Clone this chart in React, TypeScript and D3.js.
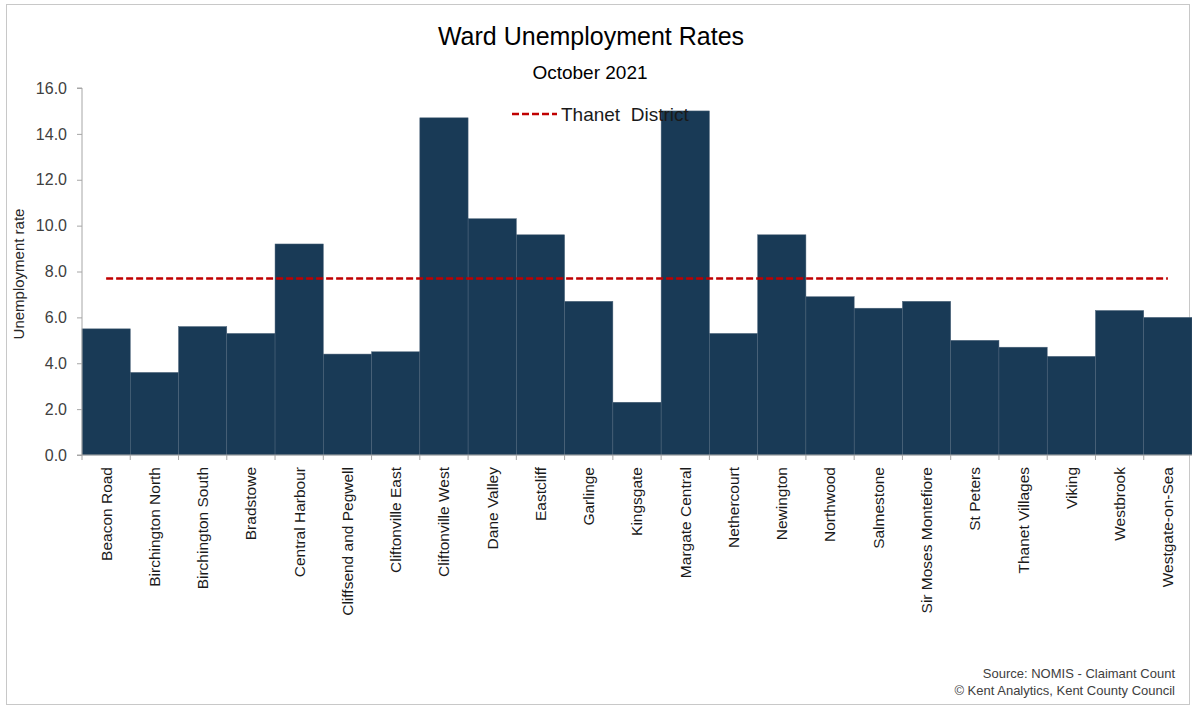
import React, { useEffect, useRef } from "react";
import * as d3 from "d3";

const wards = [
  "Beacon Road",
  "Birchington North",
  "Birchington South",
  "Bradstowe",
  "Central Harbour",
  "Cliffsend and Pegwell",
  "Cliftonville East",
  "Cliftonville West",
  "Dane Valley",
  "Eastcliff",
  "Garlinge",
  "Kingsgate",
  "Margate Central",
  "Nethercourt",
  "Newington",
  "Northwood",
  "Salmestone",
  "Sir Moses Montefiore",
  "St Peters",
  "Thanet Villages",
  "Viking",
  "Westbrook",
  "Westgate-on-Sea",
];

const wardRates = [
  5.5, 3.6, 5.6, 5.3, 9.2, 4.4, 4.5, 14.7, 10.3, 9.6, 6.7, 2.3, 15.0, 5.3, 9.6,
  6.9, 6.4, 6.7, 5.0, 4.7, 4.3, 6.3, 6.0,
];

const districtRate = 7.7;
const yTicks = [0, 2, 4, 6, 8, 10, 12, 14, 16];

const W = 1192;
const H = 708;
const FONT = "'Liberation Sans', Arial, sans-serif";

const App: React.FC = () => {
  const svgRef = useRef<SVGSVGElement>(null);

  useEffect(() => {
    if (!svgRef.current) return;
    const svg = d3.select(svgRef.current);
    svg.selectAll("*").remove();

    const left = 82;
    const right = 1192;
    const top = 88;
    const bottom = 455;

    const x = d3.scaleBand<string>().domain(wards).range([left, right]).padding(0);
    const y = d3.scaleLinear().domain([0, 16]).range([bottom, top]);

    // outer frame
    svg
      .append("rect")
      .attr("x", 6.5)
      .attr("y", 4.5)
      .attr("width", 1183)
      .attr("height", 700)
      .attr("fill", "white")
      .attr("stroke", "#c8c8c8")
      .attr("stroke-width", 1);

    // title
    svg
      .append("text")
      .attr("x", 591)
      .attr("y", 45)
      .attr("text-anchor", "middle")
      .attr("font-family", FONT)
      .attr("font-size", 25)
      .attr("fill", "#000")
      .text("Ward Unemployment Rates");

    svg
      .append("text")
      .attr("x", 590)
      .attr("y", 79)
      .attr("text-anchor", "middle")
      .attr("font-family", FONT)
      .attr("font-size", 19)
      .attr("fill", "#000")
      .text("October 2021");

    // bars
    svg
      .append("g")
      .selectAll("rect")
      .data(wards)
      .join("rect")
      .attr("x", (d) => x(d)!)
      .attr("width", x.bandwidth())
      .attr("y", (_, i) => y(wardRates[i]))
      .attr("height", (_, i) => y(0) - y(wardRates[i]))
      .attr("fill", "#193a56")
      .attr("stroke", "#4d647a")
      .attr("stroke-width", 0.5);

    // district line
    svg
      .append("line")
      .attr("x1", x(wards[0])! + x.bandwidth() / 2)
      .attr("x2", x(wards[wards.length - 1])! + x.bandwidth() / 2)
      .attr("y1", y(districtRate))
      .attr("y2", y(districtRate))
      .attr("stroke", "#c00000")
      .attr("stroke-width", 2.5)
      .attr("stroke-dasharray", "7,3");

    // y axis
    const yAxis = svg
      .append("g")
      .attr("transform", `translate(${left}, 0)`)
      .call(
        d3
          .axisLeft(y)
          .tickValues(yTicks)
          .tickSize(5)
          .tickPadding(10)
          .tickFormat((d) => d3.format(".1f")(d as number))
      );
    yAxis.selectAll("path").attr("stroke", "#a6a6a6").attr("d", `M-5,${bottom}H0V${top}H-5`);
    yAxis.selectAll("line").attr("stroke", "#a6a6a6");
    yAxis
      .selectAll("text")
      .attr("font-family", FONT)
      .attr("font-size", 16)
      .attr("fill", "#404040");

    // x axis
    const xAxis = svg.append("g").attr("transform", `translate(0, ${bottom})`);
    xAxis
      .append("line")
      .attr("x1", left)
      .attr("x2", right)
      .attr("stroke", "#a6a6a6");
    xAxis
      .selectAll("line.tick")
      .data(wards)
      .join("line")
      .attr("class", "tick")
      .attr("x1", (d) => x(d)!)
      .attr("x2", (d) => x(d)!)
      .attr("y1", 0)
      .attr("y2", 5)
      .attr("stroke", "#a6a6a6");
    xAxis
      .selectAll("text")
      .data(wards)
      .join("text")
      .attr(
        "transform",
        (d) => `translate(${x(d)! + x.bandwidth() / 2}, 12) rotate(-90)`
      )
      .attr("text-anchor", "end")
      .attr("dy", "0.35em")
      .attr("font-family", FONT)
      .attr("font-size", 15.5)
      .attr("fill", "#1a1a1a")
      .text((d) => d);

    // y axis title
    svg
      .append("text")
      .attr("transform", `translate(19, 274) rotate(-90)`)
      .attr("text-anchor", "middle")
      .attr("dy", "0.35em")
      .attr("font-family", FONT)
      .attr("font-size", 15)
      .attr("fill", "#262626")
      .text("Unemployment rate");

    // legend
    svg
      .append("line")
      .attr("x1", 512)
      .attr("x2", 557)
      .attr("y1", 114)
      .attr("y2", 114)
      .attr("stroke", "#c00000")
      .attr("stroke-width", 2.5)
      .attr("stroke-dasharray", "7,3");
    svg
      .append("text")
      .attr("x", 561)
      .attr("y", 121)
      .attr("font-family", FONT)
      .attr("font-size", 19)
      .attr("fill", "#1a1a1a")
      .style("white-space", "pre")
      .text("Thanet  District");

    // source
    svg
      .append("text")
      .attr("x", 1175)
      .attr("y", 678)
      .attr("text-anchor", "end")
      .attr("font-family", FONT)
      .attr("font-size", 13)
      .attr("fill", "#404040")
      .text("Source: NOMIS - Claimant Count");
    svg
      .append("text")
      .attr("x", 1175)
      .attr("y", 695)
      .attr("text-anchor", "end")
      .attr("font-family", FONT)
      .attr("font-size", 13)
      .attr("fill", "#404040")
      .text("© Kent Analytics, Kent County Council");
  }, []);

  return (
    <svg
      ref={svgRef}
      width={W}
      height={H}
      style={{ position: "absolute", left: 0, top: 0, background: "white" }}
    />
  );
};

export default App;
